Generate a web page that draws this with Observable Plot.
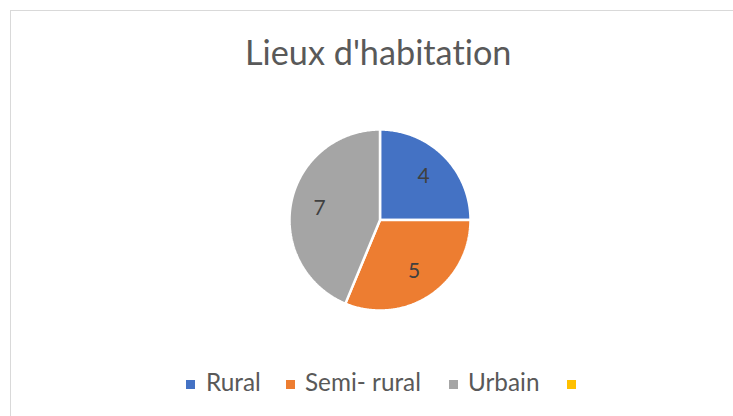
<!DOCTYPE html>
<html>
<head>
<meta charset="utf-8">
<script src="https://cdn.jsdelivr.net/npm/d3@7"></script>
<script src="https://cdn.jsdelivr.net/npm/@observablehq/plot@0.6"></script>
<style>
  html, body { margin: 0; padding: 0; background: #fff; }
  #wrap { position: relative; width: 733px; height: 416px; overflow: hidden; font-family: Lato, "Open Sans", sans-serif; font-variant-ligatures: none; }
  #frame { position: absolute; left: 10px; top: 10px; width: 800px; height: 500px; border: 1px solid #d9d9d9; box-sizing: border-box; }
  #title { position: absolute; left: 0; top: 0; width: 733px; height: 100px; color: #595959; }
  #chart { position: absolute; left: 0; top: 100px; }
  #legend { position: absolute; left: 0; top: 360px; width: 733px; height: 56px; color: #595959; }
  .sw { position: absolute; width: 9px; height: 9px; }
  .lt { position: absolute; white-space: nowrap; line-height: 1; font-variant-ligatures: none; }
</style>
</head>
<body>
<div id="wrap">
  <div id="frame"></div>
  <div id="title"></div>
  <div id="chart"></div>
  <div id="legend"></div>
</div>
<script>
// ---- data ----
const titleText = "Lieux d'habitation";
const categories = ["Rural", "Semi- rural", "Urbain", ""];
const values = [4, 5, 7, 0];
const colors = ["#4472C4", "#ED7D31", "#A5A5A5", "#FFC000"];

// ---- helpers ----
const FAMILY = 'Lato';
const ctx = document.createElement("canvas").getContext("2d");
function fitSize(text, weight, targetWidth) {
  ctx.font = `${weight} 100px ${FAMILY}`;
  return 100 * targetWidth / ctx.measureText(text).width;
}
function topForBaseline(size, weight, baseline) {
  ctx.font = `${weight} ${size}px ${FAMILY}`;
  const m = ctx.measureText("Hg");
  const asc = m.fontBoundingBoxAscent, desc = m.fontBoundingBoxDescent;
  return baseline - ((size - (asc + desc)) / 2 + asc);
}
function addText(parent, text, size, weight, left, baselineY, parentTop) {
  const t = document.createElement("div");
  t.className = "lt";
  t.textContent = text;
  t.style.fontFamily = FAMILY;
  t.style.fontWeight = weight;
  t.style.fontSize = size + "px";
  t.style.left = left + "px";
  t.style.top = (topForBaseline(size, weight, baselineY) - parentTop) + "px";
  parent.appendChild(t);
  return t;
}

// ---- title ----
const tSize = fitSize(titleText, 400, 267);
addText(document.getElementById("title"), titleText, tSize, 400, 245, 65.5, 0);

// ---- pie geometry from data ----
const arcs = d3.pie().sort(null).value(d => d)(values);
const rows = [];
arcs.forEach((a, i) => {
  if (a.endAngle - a.startAngle <= 0) return;
  rows.push({cat: categories[i], x: 0, y: 0});
  const n = Math.max(2, Math.ceil((a.endAngle - a.startAngle) / 0.01));
  for (let k = 0; k <= n; k++) {
    const t = a.startAngle + (a.endAngle - a.startAngle) * k / n;
    rows.push({cat: categories[i], x: Math.sin(t), y: Math.cos(t)});
  }
});
const labels = arcs.filter(a => a.value > 0).map(a => {
  const m = (a.startAngle + a.endAngle) / 2;
  return {text: String(a.value), x: 0.68 * Math.sin(m), y: 0.68 * Math.cos(m)};
});

const plot = Plot.plot({
  width: 733,
  height: 260,
  marginLeft: 289,
  marginRight: 733 - 470,
  marginTop: 29,
  marginBottom: 50,
  x: {domain: [-1, 1], axis: null},
  y: {domain: [-1, 1], axis: null},
  color: {domain: categories, range: colors},
  style: {background: "transparent", overflow: "visible"},
  marks: [
    Plot.line(rows, {x: "x", y: "y", z: "cat", fill: "cat", stroke: "#ffffff", strokeWidth: 2.5, curve: "linear-closed", strokeLinejoin: "miter"}),
    Plot.text(labels, {x: "x", y: "y", text: "text", fontSize: 21, fill: "#404040", fontFamily: FAMILY})
  ]
});
document.getElementById("chart").appendChild(plot);

// ---- legend ----
const legend = document.getElementById("legend");
const lSize = fitSize("Semi- rural", 400, 116);
const swX = [186, 286, 449, 567];
const txX = [206, 305, 468, 587];
categories.forEach((c, i) => {
  const s = document.createElement("div");
  s.className = "sw";
  s.style.background = colors[i];
  s.style.left = swX[i] + "px";
  s.style.top = (380 - 360) + "px";
  legend.appendChild(s);
  if (c) addText(legend, c, lSize, 400, txX[i], 391.5, 360);
});
</script>
</body>
</html>
